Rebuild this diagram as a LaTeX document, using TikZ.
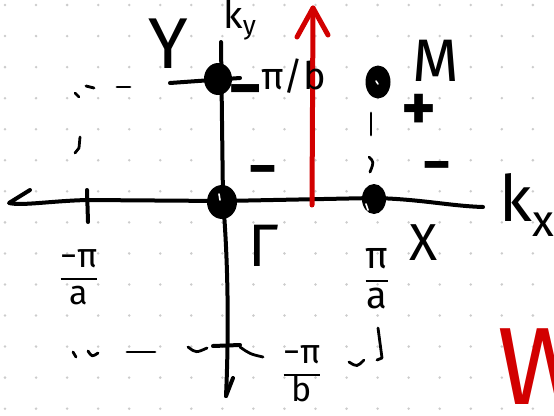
\documentclass[tikz,border=0pt]{standalone}
\usepackage{fontspec}
\setmainfont{Fira Sans}
\usetikzlibrary{shapes.geometric}
\definecolor{penred}{HTML}{D20000}
\definecolor{dotgrey}{HTML}{CCCCCC}
\newcommand{\kfrac}[2]{{\setlength{\arrayrulewidth}{2.5pt}\begin{tabular}{@{}c@{}}#1\\\hline #2\end{tabular}}}
\tikzset{
    pen/.style={line width=4pt, line cap=round, line join=round},
    dashpen/.style={line width=2.8pt, line cap=round, line join=round},
    redpen/.style={line width=5pt, line cap=round, line join=round, draw=penred},
    kpoint/.style={ellipse, fill=black, inner sep=0pt},
    speck/.style={line width=1.6pt, white, line cap=round},
    letter/.style={inner sep=0pt, font=\fontsize{#1}{#1}\selectfont},
    sign/.style={inner sep=0pt, font=\fontsize{#1}{#1}\selectfont\bfseries},
    fraclabel/.style={inner sep=0pt, align=center, font=\fontsize{#1}{#1}\selectfont}
}
\begin{document}
\begin{tikzpicture}[x=1pt, y=-1pt]
  \useasboundingbox (0,0) rectangle (554,415);

  % dotted paper
  \foreach \i in {0,...,17}
    \foreach \j in {0,...,13}
      \fill[dotgrey] (5+31.05*\i, 5+31.05*\j) circle (1.4pt);

  % axes
  \draw[pen] (30,190) -- (9,203) .. controls (22,206) and (50,201) .. (87,200)
    -- (223,201) -- (374,198) .. controls (420,199) and (450,206) .. (483,207);
  \draw[pen] (221,42) -- (223,200) .. controls (228,260) and (229,330) .. (226,396);
  \draw[pen] (233,378) -- (226,396);
  \draw[pen] (87,190) -- (88,222);
  \draw[pen] (213,346) -- (240,345);
  \draw[pen] (170,83) -- (240,78);

  % zone edge, drawn loosely
  \draw[dashpen] (75,93) -- (79,97);
  \draw[dashpen] (86,86) -- (94,88);
  \draw[dashpen] (117,87) -- (130,87);
  \draw[dashpen] (80,137) -- (79,148) -- (75,153);
  \draw[dashpen] (371,113) -- (371,135);
  \draw[dashpen] (369,157) .. controls (374,162) .. (370,172);
  \draw[dashpen] (73,352) -- (76,357);
  \draw[dashpen] (88,351) .. controls (92,357) .. (98,353);
  \draw[dashpen] (127,352) -- (155,352);
  \draw[dashpen] (188,347) .. controls (196,353) .. (207,348);
  \draw[dashpen] (240,347) .. controls (250,354) .. (263,357);
  \draw[dashpen] (349,362) .. controls (357,367) .. (364,360);
  \draw[dashpen] (378,328) -- (382,358) -- (377,360);

  % high-symmetry points
  \node[kpoint, minimum width=30pt, minimum height=34pt] (G) at (222,202) {};
  \node[kpoint, minimum width=28pt, minimum height=32pt] (Y) at (218,79) {};
  \node[kpoint, minimum width=25pt, minimum height=33pt] (M) at (378,82) {};
  \node[kpoint, minimum width=24pt, minimum height=30pt] (X) at (374,199) {};
  \draw[speck] (219,194) -- (220,200);
  \draw[speck] (366,204) -- (368,210);
  \draw[speck] (376,81) -- (378,84);

  % red path
  \draw[redpen] (312,205) -- (313,8);
  \draw[redpen] (297,37) -- (313,8) -- (328,35);

  % labels
  \node[letter=72] (lblY) at (168,44) {Y};
  \node[letter=38] (lblky) at (240,20) {k\textsubscript{y}};
  \node[letter=60] (lblM) at (436,61) {M};
  \node[letter=60] (lblGamma) at (264,246) {Γ};
  \node[letter=52] (lblX) at (424,243) {X};
  \node[letter=64] (lblkx) at (527,205) {k\textsubscript{x}};
  \node[letter=38] (lblpib) at (294,76) {π/b};
  \node[fraclabel=38] (lblpia) at (377,281) {\kfrac{π}{a}};
  \node[fraclabel=34] (lblmpia) at (79,279) {\kfrac{−π}{a}};
  \node[fraclabel=34] (lblmpib) at (302,376) {\kfrac{−π}{b}};

  % signs
  \node[sign=66] (sgnY) at (246,98) {−};
  \node[sign=66] (sgnM) at (419,112) {+};
  \node[sign=56] (sgnX) at (437,172) {−};
  \node[sign=56] (sgnG) at (263,176) {−};

  \begin{scope}
    \clip (0,0) rectangle (554,415);
    \node[letter=110, text=penred, anchor=west] (lblW) at (497,367) {W};
  \end{scope}
\end{tikzpicture}
\end{document}
